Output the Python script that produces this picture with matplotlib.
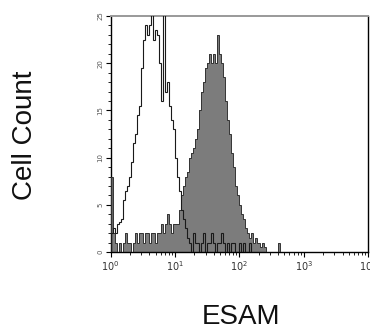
import numpy as np
import matplotlib
matplotlib.use("Agg")
import matplotlib.pyplot as plt
from matplotlib.ticker import FixedLocator, LogLocator, NullFormatter

# histogram channels, 32 per decade, starting at 10^0
BINS_PER_DECADE = 32

# unstained / isotype (open line)
isotype = [2, 2.5, 2, 3, 3.2, 3.5, 5.5, 6.5, 7, 8, 9.5, 11.5, 12.5, 14.5, 15.5,
           19.5, 22.5, 24, 23, 24, 25.5, 22.5, 23.5, 23, 20, 16, 25.5, 17, 18,
           15.5, 14, 13, 10, 8, 6.5, 4.5, 3.5, 2.5, 1.5,
           1, 0, 2, 1, 1, 0, 1, 2, 0, 1, 1, 2, 1, 0, 1, 1, 2, 1, 0, 1, 0,
           1, 1, 0, 0, 1, 0, 1, 0, 0, 1]

# ESAM stained (filled grey)
esam = [8, 2, 1, 0, 1, 0, 1, 2, 1, 1, 0, 1, 2, 1, 2, 2, 1, 2, 2, 1, 2, 2, 1,
        2, 2, 3, 2, 3, 4, 3, 2, 3, 3, 3, 4.5, 6, 7, 8, 8.5, 10, 10.5, 11, 12,
        13, 15, 17, 18, 19.5, 20, 21, 20, 21, 20, 23, 21, 20, 18.5, 16, 14,
        12.5, 10.5, 9, 7, 6, 5, 4, 3.5, 2.5, 2, 1.5, 2, 1, 1.5, 1, 0.5, 1,
        0.5, 0, 0, 0, 0, 0, 0, 1]

y_ticks = [0, 5, 10, 15, 20, 25]
x_ticks = [1, 10, 100, 1000, 10000]
x_ticklabels = [r"$10^{0}$", r"$10^{1}$", r"$10^{2}$", r"$10^{3}$", r"$10^{4}$"]


def edges_for(counts):
    return 10 ** (np.arange(len(counts) + 1) / BINS_PER_DECADE)


fig = plt.figure(figsize=(3.7, 3.33), dpi=100)
ax = fig.add_axes([0.299, 0.243, 0.696, 0.709])

ax.stairs(esam, edges_for(esam), fill=True, color="#7c7c7c", zorder=2)
ax.stairs(esam, edges_for(esam), color="#333333", linewidth=0.7, zorder=3)
ax.stairs(isotype, edges_for(isotype), color="#1a1a1a", linewidth=0.8, zorder=4)

ax.set_xscale("log")
ax.set_xlim(1, 10000)
ax.set_ylim(0, 25)

ax.set_xticks(x_ticks)
ax.set_xticklabels(x_ticklabels, fontsize=7, color="#333333")
ax.xaxis.set_minor_locator(LogLocator(base=10, subs=np.arange(2, 10)))
ax.xaxis.set_minor_formatter(NullFormatter())

ax.set_yticks(y_ticks)
ax.set_yticklabels([str(t) for t in y_ticks], fontsize=5, rotation=90,
                   va="center", color="#555555")
ax.yaxis.set_minor_locator(FixedLocator(np.arange(0, 26, 1)))

ax.tick_params(which="major", direction="out", length=3.5, width=0.8, pad=1.5)
ax.tick_params(which="minor", direction="out", length=2, width=0.6)
ax.tick_params(top=False, right=False)

for s in ("left", "bottom", "right"):
    ax.spines[s].set_color("black")
    ax.spines[s].set_linewidth(1.0)
ax.spines["top"].set_color("#999999")
ax.spines["top"].set_linewidth(1.4)

fig.text(0.068, 0.595, "Cell Count", rotation=90, ha="center", va="center",
         fontsize=20, family="Liberation Sans", color="#111111")
fig.text(0.652, 0.008, "ESAM", ha="center", va="bottom",
         fontsize=20, family="Liberation Sans", color="#111111")

fig.savefig("out.png", dpi=100)
